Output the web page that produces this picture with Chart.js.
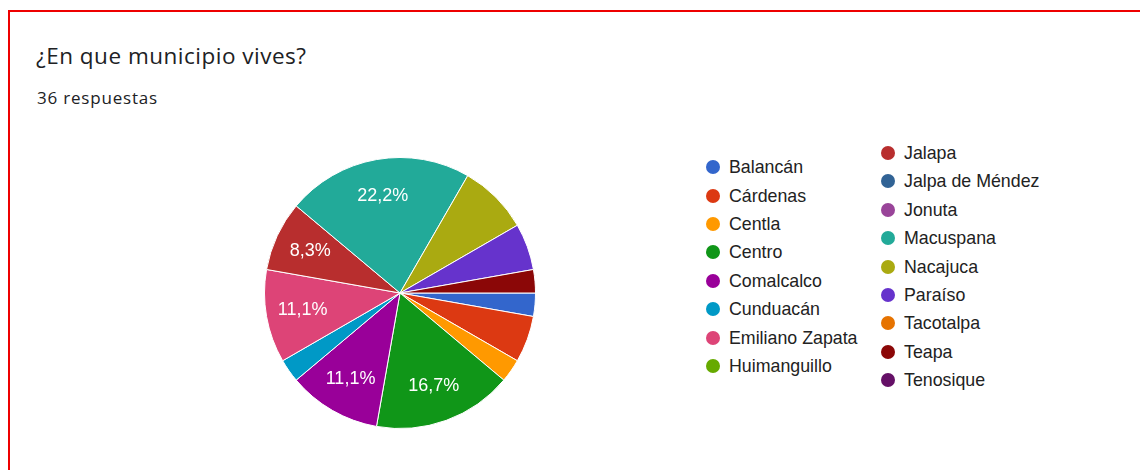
<!DOCTYPE html>
<html>
<head>
<meta charset="utf-8">
<script src="https://cdn.jsdelivr.net/npm/chart.js@4"></script>
<style>
  body { margin: 0; background: #fff; font-family: Arial, "Liberation Sans", sans-serif; }
  #card { position: absolute; left: 8px; top: 10px; width: 1300px; height: 600px; border: 2px solid #e00; box-sizing: border-box; }
  #title { position: absolute; left: 36px; top: 40px; font-family: "Open Sans", sans-serif; font-size: 22.5px; letter-spacing: 0.5px; color: #202124; }
  #sub { position: absolute; left: 37px; top: 86px; font-family: "Open Sans", sans-serif; font-size: 17px; letter-spacing: 0.8px; color: #202124; }
  #pieWrap { position: absolute; left: 260px; top: 153px; width: 280px; height: 280px; }
  .item { position: absolute; white-space: nowrap; font-size: 17.8px; color: #222; height: 20px; line-height: 20px; }
  .dot { position: absolute; left: 0; top: 3px; width: 14px; height: 14px; border-radius: 50%; }
  .txt { position: absolute; left: 23px; top: 0; }
</style>
</head>
<body>
<div id="card"></div>
<div id="title">¿En que municipio vives?</div>
<div id="sub">36 respuestas</div>
<div id="pieWrap"><canvas id="pie"></canvas></div>
<div id="legend"></div>
<script>
const municipios = ['Balancán', 'Cárdenas', 'Centla', 'Centro', 'Comalcalco', 'Cunduacán',
  'Emiliano Zapata', 'Huimanguillo', 'Jalapa', 'Jalpa de Méndez', 'Jonuta', 'Macuspana',
  'Nacajuca', 'Paraíso', 'Tacotalpa', 'Teapa', 'Tenosique'];
const respuestas = [1, 2, 1, 6, 4, 1, 4, 0, 3, 0, 0, 8, 3, 2, 0, 1, 0];
const colores = ['#3366cc', '#dc3912', '#ff9900', '#109618', '#990099', '#0099c6',
  '#dd4477', '#66aa00', '#b82e2e', '#316395', '#994499', '#22aa99',
  '#aaaa11', '#6633cc', '#e67300', '#8b0707', '#651067'];
// slices that carry a percentage label in the original
const conEtiqueta = ['Centro', 'Comalcalco', 'Emiliano Zapata', 'Jalapa', 'Macuspana'];

const total = respuestas.reduce((a, b) => a + b, 0);

const sliceLabels = {
  id: 'sliceLabels',
  afterDatasetsDraw(chart) {
    const ctx = chart.ctx;
    const meta = chart.getDatasetMeta(0);
    ctx.save();
    ctx.font = '18px Arial, "Liberation Sans", sans-serif';
    ctx.fillStyle = '#fff';
    ctx.textAlign = 'center';
    ctx.textBaseline = 'middle';
    meta.data.forEach((arc, i) => {
      if (!conEtiqueta.includes(municipios[i])) return;
      const p = arc.getProps(['x', 'y', 'startAngle', 'endAngle', 'outerRadius'], true);
      const mid = (p.startAngle + p.endAngle) / 2;
      const r = p.outerRadius * 0.73;
      const pct = (respuestas[i] / total * 100).toFixed(1).replace('.', ',') + '%';
      ctx.fillText(pct, p.x + Math.cos(mid) * r, p.y + Math.sin(mid) * r);
    });
    ctx.restore();
  }
};

new Chart(document.getElementById('pie').getContext('2d'), {
  type: 'pie',
  data: {
    labels: municipios,
    datasets: [{
      data: respuestas,
      backgroundColor: colores,
      borderColor: '#fff',
      borderWidth: 1
    }]
  },
  options: {
    responsive: true,
    maintainAspectRatio: false,
    animation: false,
    rotation: 90,
    layout: { padding: 4 },
    plugins: {
      legend: { display: false },
      tooltip: { enabled: false }
    }
  },
  plugins: [sliceLabels]
});

// legend in two columns, each centred vertically like the original
const legend = document.getElementById('legend');
const cols = [{ x: 706, items: municipios.slice(0, 8), off: 0 }, { x: 881, items: municipios.slice(8), off: 8 }];
const rowH = 28.4;
const middle = 266.5;
cols.forEach(col => {
  const top = middle - (col.items.length - 1) * rowH / 2;
  col.items.forEach((name, k) => {
    const el = document.createElement('div');
    el.className = 'item';
    el.style.left = col.x + 'px';
    el.style.top = (top + k * rowH - 10) + 'px';
    const d = document.createElement('span');
    d.className = 'dot';
    d.style.background = colores[col.off + k];
    const t = document.createElement('span');
    t.className = 'txt';
    t.textContent = name;
    el.appendChild(d);
    el.appendChild(t);
    legend.appendChild(el);
  });
});
</script>
</body>
</html>
